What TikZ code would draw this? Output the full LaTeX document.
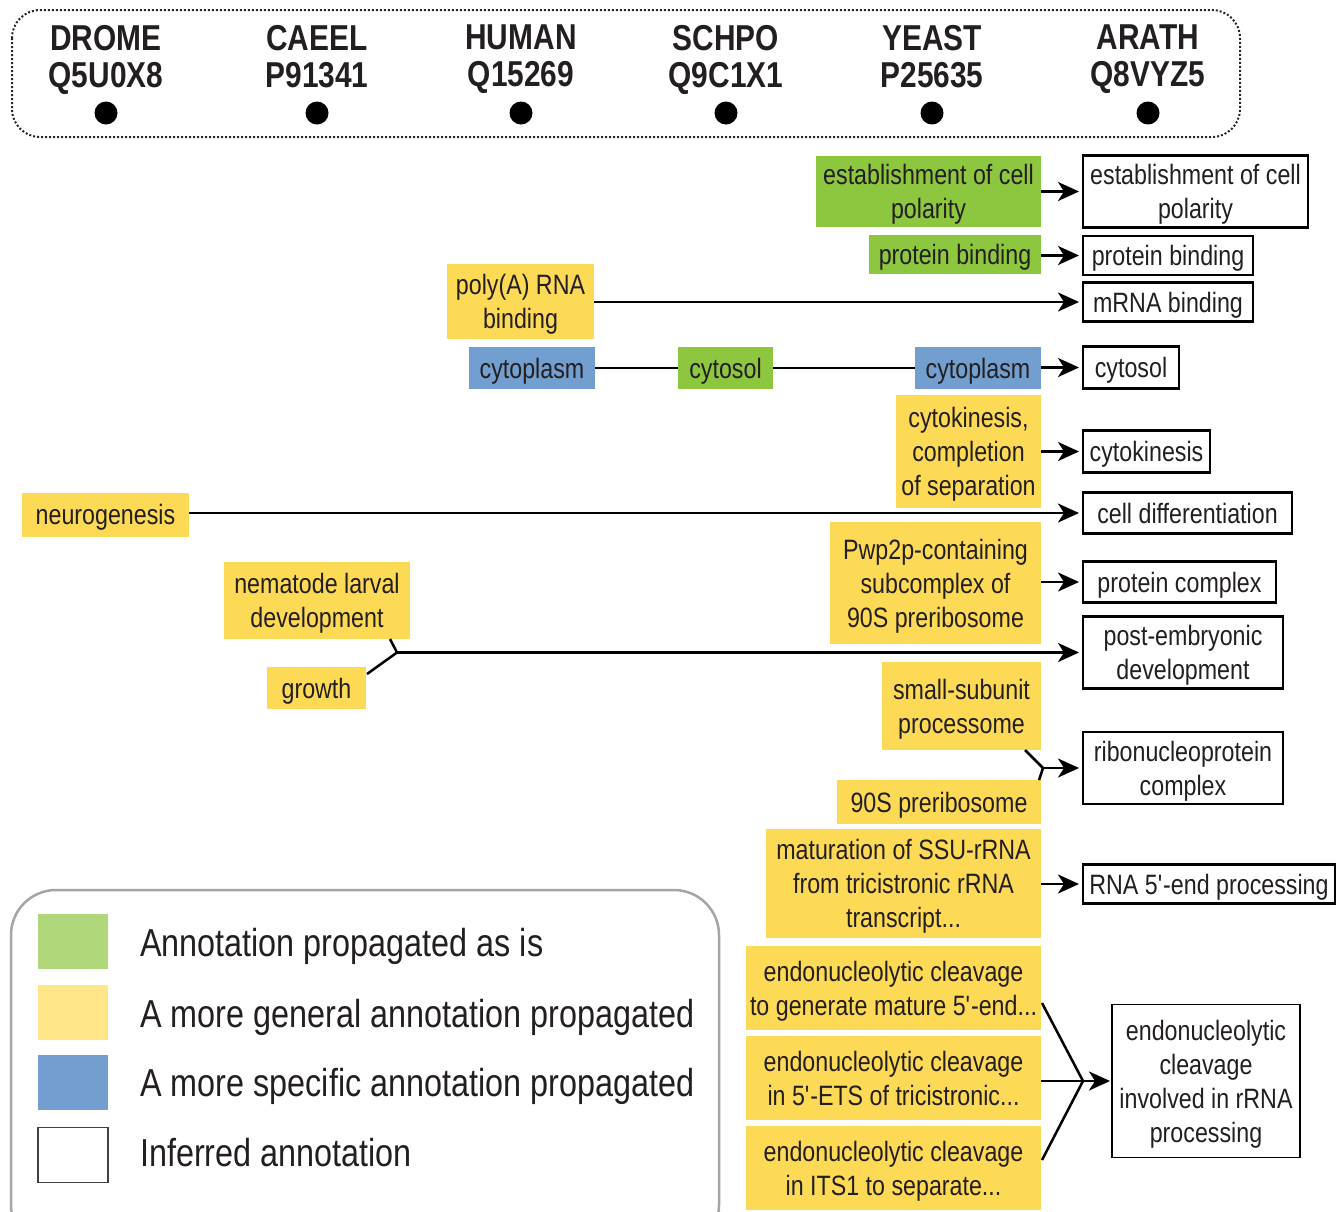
\documentclass[tikz,border=0pt]{standalone}
\usepackage{fontspec}
\setmainfont{Liberation Sans}[FakeStretch=0.83]
\usetikzlibrary{arrows.meta,calc}
\definecolor{gfill}{RGB}{141,198,63}
\definecolor{yfill}{RGB}{253,218,86}
\definecolor{bfill}{RGB}{114,159,207}
\definecolor{lgreen}{RGB}{176,215,122}
\definecolor{lyellow}{RGB}{254,230,137}
\definecolor{lblue}{RGB}{116,158,207}
\definecolor{txt}{RGB}{35,31,32}
\definecolor{lgray}{RGB}{165,165,165}
\begin{document}
\begin{tikzpicture}[x=1pt,y=-1pt,
  lab/.style={inner sep=0pt, outer sep=0pt, align=center, text=txt, text depth=0pt, font=\fontsize{28}{34}\selectfont},
  gbox/.style={lab, fill=gfill},
  ybox/.style={lab, fill=yfill},
  bbox/.style={lab, fill=bfill},
  wbox/.style={lab, draw=black, line width=2.5pt, fill=white},
  hdr/.style={anchor=north, inner sep=0pt, align=center, text=txt, font=\bfseries\fontsize{36}{37}\selectfont},
  pdot/.style={circle, fill=black, minimum size=23pt, inner sep=0pt},
  conn/.style={line width=2.5pt, draw=black},
  arr/.style={conn, -{Stealth[length=21pt,width=19pt,inset=6pt]}, shorten >=4pt},
  legsq/.style={minimum width=70pt, minimum height=55pt, inner sep=0pt},
  legtxt/.style={anchor=base west, inner sep=0pt, text=txt, font=\fontsize{39}{44}\selectfont},
]
\useasboundingbox (0,0) rectangle (1343,1211);

% ---------- header ----------
\draw[line width=2pt, dotted, rounded corners=28pt, draw=black!85] (12,10) rectangle (1240,137);
\node[hdr] (h1) at (106,25) {DROME\\Q5U0X8};
\node[hdr] (h2) at (317,25) {CAEEL\\P91341};
\node[hdr] (h3) at (521,25) {HUMAN\\Q15269};
\node[hdr] (h4) at (726,25) {SCHPO\\Q9C1X1};
\node[hdr] (h5) at (932,25) {YEAST\\P25635};
\node[hdr] (h6) at (1148,25) {ARATH\\Q8VYZ5};
\node[pdot] (d1) at (106,113) {};
\node[pdot] (d2) at (317,113) {};
\node[pdot] (d3) at (521,113) {};
\node[pdot] (d4) at (726,113) {};
\node[pdot] (d5) at (932,113) {};
\node[pdot] (d6) at (1148,113) {};

% ---------- rows ----------
\node[gbox, minimum width=225pt, minimum height=71pt] (epg) at (928.5,191.5) {establishment of cell\\polarity};
\node[wbox, minimum width=225pt, minimum height=72pt] (epw) at (1195.5,191.5) {establishment of cell\\polarity};
\draw[arr] (epg) -- (epw);

\node[gbox, minimum width=172pt, minimum height=39pt] (pbg) at (955,254) {protein binding};
\node[wbox, minimum width=170pt, minimum height=39pt] (pbw) at (1168,255.5) {protein binding};
\draw[arr] (pbg.east |- pbw) -- (pbw);

\node[ybox, minimum width=147pt, minimum height=75pt] (poly) at (520.5,301.5) {poly(A) RNA\\binding};
\node[wbox, minimum width=170pt, minimum height=39pt] (mrna) at (1168,302) {mRNA binding};
\draw[arr] (poly.east |- mrna) -- (mrna);

\node[bbox, minimum width=126pt, minimum height=42pt] (cp1) at (532,368) {cytoplasm};
\node[gbox, minimum width=95pt, minimum height=42pt] (cs1) at (725.5,368) {cytosol};
\node[bbox, minimum width=126pt, minimum height=42pt] (cp2) at (978,368) {cytoplasm};
\node[wbox, minimum width=96pt, minimum height=42pt] (csw) at (1131,367.5) {cytosol};
\draw[conn] (cp1) -- (cs1);
\draw[conn] (cs1) -- (cp2);
\draw[arr] (cp2.east |- csw) -- (csw);

\node[ybox, minimum width=145pt, minimum height=113pt] (cyk) at (968.5,451.5) {cytokinesis,\\completion\\of separation};
\node[wbox, minimum width=127pt, minimum height=42pt] (cykw) at (1146.5,451.5) {cytokinesis};
\draw[arr] (cyk) -- (cykw);

\node[ybox, minimum width=167pt, minimum height=44pt] (neuro) at (105.5,514.5) {neurogenesis};
\node[wbox, minimum width=209pt, minimum height=41pt] (celld) at (1187.5,513) {cell differentiation};
\draw[arr] (neuro.east |- celld) -- (celld);

\node[ybox, minimum width=211pt, minimum height=122pt] (pwp) at (935.5,583) {Pwp2p-containing\\subcomplex of\\90S preribosome};
\node[wbox, minimum width=193pt, minimum height=41pt] (pcx) at (1179.5,582) {protein complex};
\draw[arr] (pwp.east |- pcx) -- (pcx);

\node[ybox, minimum width=186pt, minimum height=77pt] (nem) at (317,600.5) {nematode larval\\development};
\node[ybox, minimum width=99pt, minimum height=42pt] (growth) at (316.5,688) {growth};
\node[wbox, minimum width=200pt, minimum height=72pt] (post) at (1183,652.5) {post-embryonic\\development};
\coordinate (m1) at (397,652.5);
\draw[conn] ($(nem.south east)+(-20,0)$) -- (m1);
\draw[conn] ($(growth.north east)+(1,7)$) -- (m1);
\draw[arr] (m1) -- (post);

\node[ybox, minimum width=159pt, minimum height=88pt] (ssp) at (961.5,706) {small-subunit\\processome};
\node[ybox, minimum width=204pt, minimum height=44pt] (pre90) at (939,802) {90S preribosome};
\node[wbox, minimum width=200pt, minimum height=72pt] (ribo) at (1183,768) {ribonucleoprotein\\complex};
\coordinate (m2) at (1043,768);
\draw[conn] ($(ssp.south east)+(-16,0)$) -- (m2);
\draw[conn] ($(pre90.north east)+(-2,0)$) -- (m2);
\draw[arr] (m2) -- (ribo);

\node[ybox, minimum width=275pt, minimum height=109pt] (mat) at (903.5,883.5) {maturation of SSU-rRNA\\from tricistronic rRNA\\transcript...};
\node[wbox, minimum width=252pt, minimum height=39pt] (rna5) at (1209,884) {RNA 5\textquotesingle-end processing};
\draw[arr] (mat.east |- rna5) -- (rna5);

\node[ybox, minimum width=295pt, minimum height=84pt] (en1) at (893.5,988) {endonucleolytic cleavage\\to generate mature 5\textquotesingle-end...};
\node[ybox, minimum width=295pt, minimum height=84pt] (en2) at (893.5,1078) {endonucleolytic cleavage\\in 5\textquotesingle-ETS of tricistronic...};
\node[ybox, minimum width=295pt, minimum height=84pt] (en3) at (893.5,1168) {endonucleolytic cleavage\\in ITS1 to separate...};
\node[wbox, line width=1.5pt, minimum width=188pt, minimum height=153pt] (enw) at (1206,1081) {endonucleolytic\\cleavage\\involved in rRNA\\processing};
\coordinate (m3) at (1083,1081);
\draw[conn] ($(en1.south east)+(1,-27)$) -- (m3);
\draw[conn] (en2.east |- m3) -- (m3);
\draw[conn] ($(en3.north east)+(1,34)$) -- (m3);
\draw[arr, shorten >=2pt] (m3) -- (enw);

% ---------- legend ----------
\draw[line width=2.5pt, draw=lgray, rounded corners=45pt] (11,890) rectangle (719,1250);
\node[legsq, fill=lgreen] (l1) at (73,941.5) {};
\node[legsq, fill=lyellow] (l2) at (73,1012.5) {};
\node[legsq, fill=lblue] (l3) at (73,1082.5) {};
\node[legsq, fill=white, draw=black!75, line width=1.5pt] (l4) at (73,1155) {};
\node[legtxt] (t1) at (140,956) {Annotation propagated as is};
\node[legtxt] (t2) at (140,1027) {A more general annotation propagated};
\node[legtxt] (t3) at (140,1096) {A more specific annotation propagated};
\node[legtxt] (t4) at (140,1166) {Inferred annotation};
\end{tikzpicture}
\end{document}
